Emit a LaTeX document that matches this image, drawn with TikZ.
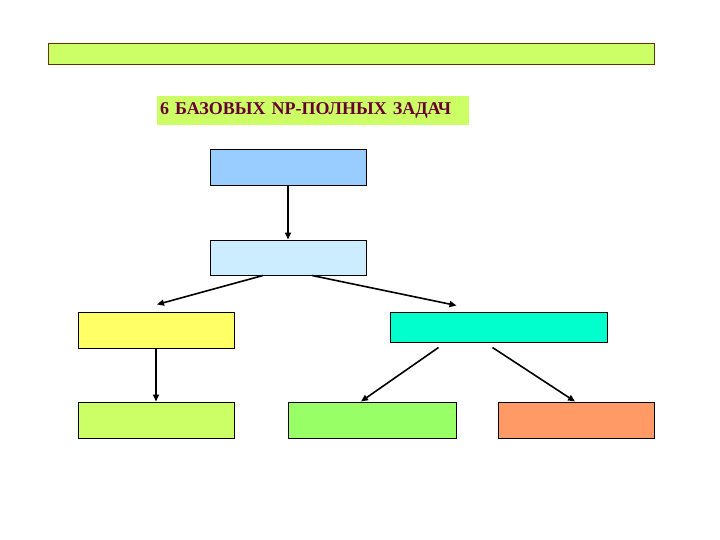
\documentclass[tikz,border=0pt]{standalone}
\usepackage{fontspec}
\setmainfont{Liberation Serif}
\usetikzlibrary{arrows.meta}

\definecolor{barGreen}{HTML}{CCFF66}
\definecolor{barBrown}{HTML}{663300}
\definecolor{titleInk}{HTML}{660033}
\definecolor{boxBlue}{HTML}{99CCFF}
\definecolor{boxPale}{HTML}{CCECFF}
\definecolor{boxYellow}{HTML}{FFFF66}
\definecolor{boxCyan}{HTML}{00FFCC}
\definecolor{boxLime}{HTML}{CCFF66}
\definecolor{boxGreen}{HTML}{99FF66}
\definecolor{boxOrange}{HTML}{FF9966}

\tikzset{
    box/.style={draw=black, line width=1pt, inner sep=0pt},
    conn/.style={-{Triangle[length=7pt,width=6pt]}, line width=1.6pt}
}

\begin{document}
\begin{tikzpicture}[x=1pt,y=-1pt]
            \useasboundingbox (0,0) rectangle (720,540);

            \node [draw=barBrown, fill=barGreen, line width=1pt, inner sep=0pt,
                   minimum width=606pt, minimum height=21pt, anchor=north west] (bar) at (48,43) {};

            \node [fill=barGreen, text=titleInk, font=\bfseries\fontsize{18}{21}\selectfont,
                   text width=306pt, align=left, inner xsep=3pt, inner ysep=0pt,
                   minimum height=29pt, anchor=north west] (title) at (157,96)
                  {6 БАЗОВЫХ NP-ПОЛНЫХ ЗАДАЧ};

            \begin{scope}[box]
                \foreach \name/\x/\y/\w/\h/\col in {A/288/168/156/36/boxBlue,
                        B/288/257.5/156/35/boxPale,
                        C/156/330/156/36/boxYellow,
                        D/498.5/327/217/30/boxCyan,
                        E/156/420/156/36/boxLime,
                        F/372/420/168/36/boxGreen,
                        G/576/420/156/36/boxOrange}{%
                        \node [box, fill=\col, minimum width=\w pt, minimum height=\h pt] (\name) at (\x,\y) {};
                    }
            \end{scope}

            \begin{scope}[conn]
                \draw (A.south) -- (B.north);
                \draw ([xshift=-25pt]B.south) -- ([xshift=1pt,yshift=7pt]C.north);
                \draw ([xshift=24pt]B.south) -- ([xshift=-42pt,yshift=6pt]D.north);
                \draw (C.south) -- (E.north);
                \draw ([xshift=-60pt,yshift=-5pt]D.south) -- ([xshift=-11pt]F.north);
                \draw ([xshift=-6pt,yshift=-5pt]D.south) -- ([xshift=-1pt]G.north);
            \end{scope}
        \end{tikzpicture}
\end{document}
